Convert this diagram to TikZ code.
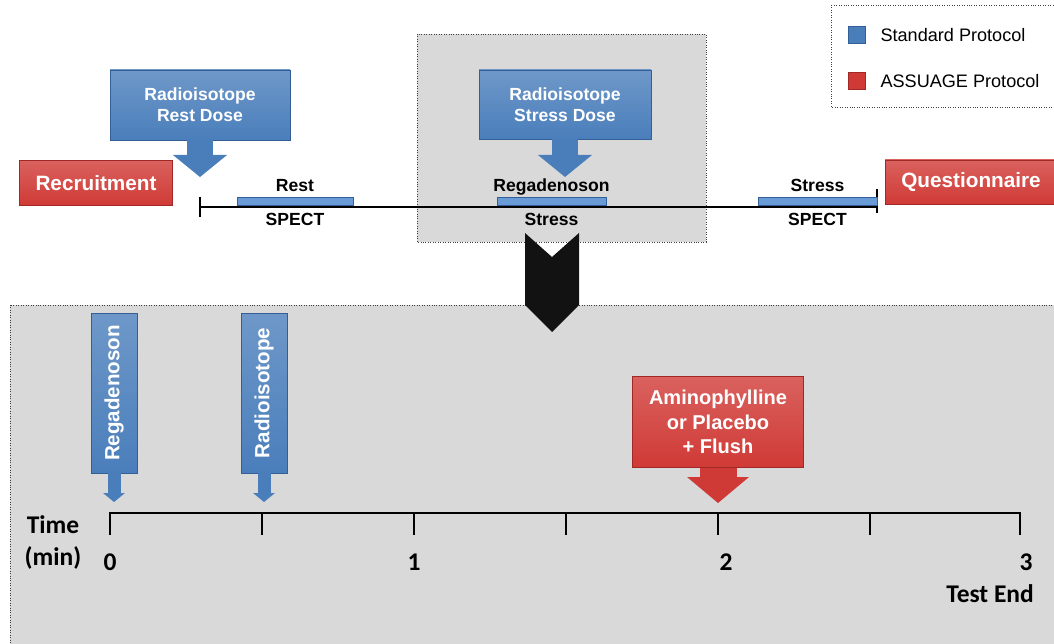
\documentclass[tikz,border=0pt]{standalone}
\usepackage{fontspec}
\usepackage{graphicx}
\usepackage{xcolor}
\setmainfont{Liberation Sans}
\newfontfamily\calibrifont{Carlito}
\usetikzlibrary{positioning,arrows.meta}
\definecolor{doseblue}{RGB}{74,126,187}
\definecolor{doseedge}{RGB}{52,95,150}
\definecolor{barblue}{RGB}{105,155,215}
\definecolor{assuagered}{RGB}{208,58,54}
\definecolor{assuageedge}{RGB}{160,40,38}
\definecolor{panelgray}{RGB}{217,217,217}

\begin{document}
\begin{tikzpicture}[x=0.02cm, y=-0.02cm,
    dosebox/.style={rectangle, draw=doseedge, top color=doseblue!80!white, bottom color=doseblue, text=white, font=\fontsize{10}{12}\selectfont\bfseries, align=center},
    redbox/.style={rectangle, draw=assuageedge, top color=assuagered!80!white, bottom color=assuagered, text=white, font=\fontsize{11.8}{14}\selectfont\bfseries, align=center},
    dosearrow/.style={draw=doseblue, line width=0.52cm, -{Triangle[width=1.08cm, length=0.44cm, line width=0pt]}},
    smallarrow/.style={draw=doseblue, line width=0.26cm, -{Triangle[width=0.44cm, length=0.18cm, line width=0pt]}},
    redarrow/.style={draw=assuagered, line width=0.74cm, -{Triangle[width=1.24cm, length=0.52cm, line width=0pt]}},
    spectbar/.style={rectangle, draw=doseedge, fill=barblue, minimum height=0.16cm, inner sep=0pt},
    barlabel/.style={font=\fontsize{10}{12}\selectfont\bfseries, inner sep=2pt, text height=7.5pt, text depth=0pt},
    panel/.style={draw=black!75, densely dotted, fill=panelgray},
    minlabel/.style={font=\calibrifont\fontsize{14.5}{17}\selectfont\bfseries}]
    \useasboundingbox (0,0) rectangle (1054,644);
    \clip (0,0) rectangle (1054,644);

    % panels
    \draw[panel] (417,34) rectangle (706,242);
    \draw[panel] (10,305) rectangle (1064,660);
    \draw[draw=black!75, densely dotted, fill=white] (831,5) rectangle (1064,107);

    % legend
    \node[rectangle, draw=doseedge, fill=doseblue, minimum size=0.34cm, inner sep=0pt] (stdKey) at (857,35) {};
    \node[right=0.17cm of stdKey, font=\fontsize{10.3}{12}\selectfont] {Standard Protocol};
    \node[rectangle, draw=assuageedge, fill=assuagered, minimum size=0.34cm, inner sep=0pt] (redKey) at (857,81) {};
    \node[right=0.17cm of redKey, font=\fontsize{10.3}{12}\selectfont] {ASSUAGE Protocol};

    % study timeline
    \coordinate (studyStart) at (200,207);
    \coordinate (studyEnd) at (877,207);
    \draw[line width=0.6pt] (studyStart) -- (studyEnd);
    \draw[line width=1.2pt] (200,197) -- (200,217);
    \draw[line width=1.2pt] (877,189) -- (877,213);

    \node[spectbar, minimum width=2.32cm] (restBar) at (295,201) {};
    \node[barlabel, above=1pt of restBar] {Rest};
    \node[barlabel, below=2pt of restBar] {SPECT};

    \node[spectbar, minimum width=2.18cm] (regBar) at (551.5,201) {};
    \node[barlabel, above=1pt of regBar] {Regadenoson};
    \node[barlabel, below=2pt of regBar] {Stress};

    \node[spectbar, minimum width=2.38cm] (stressBar) at (817.5,201) {};
    \node[barlabel, above=1pt of stressBar] {Stress};
    \node[barlabel, below=2pt of stressBar] {SPECT};

    \node[redbox, minimum width=3.06cm, minimum height=0.9cm] (recruit) at (96,183) {Recruitment};
    \node[redbox, minimum width=3.44cm, minimum height=0.88cm] (quest) at (971,182) {Questionnaire};

    \node[dosebox, minimum width=3.6cm, minimum height=1.4cm] (restDose) at (200,105) {Radioisotope\\Rest Dose};
    \coordinate (restTip) at (200,177);
    \draw[dosearrow] (restDose.south) -- (restTip);

    \node[dosebox, minimum width=3.44cm, minimum height=1.38cm] (stressDose) at (565,104.5) {Radioisotope\\Stress Dose};
    \coordinate (stressTip) at (565,177);
    \draw[dosearrow] (stressDose.south) -- (stressTip);

    % chevron into the stress test
    \fill[black!93] (525,233) -- (552,257) -- (579,233) -- (579,305) -- (552,332) -- (525,305) -- cycle;

    % stress test timeline
    \draw[line width=1.1pt] (110,535) -- (110,513) -- (1020,513) -- (1020,535);
    \draw[line width=1.1pt] (262,513) -- (262,535) (414,513) -- (414,535) (566,513) -- (566,535)
        (718,513) -- (718,535) (870,513) -- (870,535);

    \node[minlabel] (timeLbl) at (53,525) {Time};
    \node[minlabel] (minLbl) at (53,558) {(min)};
    \node[minlabel] (zeroLbl) at (110,562) {0};
    \node[minlabel] (oneLbl) at (414,562) {1};
    \node[minlabel] (twoLbl) at (726,562) {2};
    \node[minlabel] (threeLbl) at (1026,562) {3};
    \node[minlabel, anchor=east] (endLbl) at (1040,594) {Test End};

    \node[dosebox, font=\fontsize{11.7}{14}\selectfont\bfseries, minimum width=0.92cm, minimum height=3.2cm] (regDose) at (114,393) {\rotatebox{90}{Regadenoson}};
    \coordinate (regTip) at (114,502);
    \draw[smallarrow] (regDose.south) -- (regTip);

    \node[dosebox, font=\fontsize{11.7}{14}\selectfont\bfseries, minimum width=0.92cm, minimum height=3.2cm] (isoDose) at (264,393) {\rotatebox{90}{Radioisotope}};
    \coordinate (isoTip) at (264,502);
    \draw[smallarrow] (isoDose.south) -- (isoTip);

    \node[redbox, font=\fontsize{11.4}{14}\selectfont\bfseries, minimum width=3.42cm, minimum height=1.82cm] (amino) at (718,422) {Aminophylline\\or Placebo\\+ Flush};
    \coordinate (aminoTip) at (718,503);
    \draw[redarrow] (amino.south) -- (aminoTip);
\end{tikzpicture}
\end{document}
